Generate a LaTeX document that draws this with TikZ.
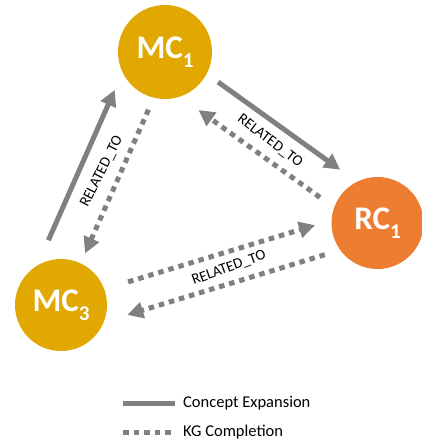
\documentclass[tikz,border=0pt]{standalone}
\usepackage{fontspec}
\setmainfont{Carlito}
\usetikzlibrary{arrows.meta,calc,positioning}
\definecolor{mcgold}{HTML}{E0A800}
\definecolor{rcorange}{HTML}{ED7D31}
\definecolor{arrowgray}{HTML}{808080}
\newcommand{\idx}[1]{\raisebox{-.28em}{\fontsize{21}{21}\selectfont#1}}

\begin{document}
\begin{tikzpicture}[x=1pt,y=1pt,
  mc node/.style={circle,fill=mcgold,minimum size=94pt,inner sep=0pt,text=white,font=\fontsize{33}{33}\selectfont\bfseries},
  rc node/.style={mc node,fill=rcorange,minimum size=92pt},
  expand/.style={draw=arrowgray,line width=5pt,-{Triangle[length=16pt,width=16pt]}},
  complete/.style={expand,dash pattern=on 5.5pt off 5pt},
  rel label/.style={font=\fontsize{15}{15}\selectfont,inner sep=0pt},
  legend text/.style={font=\fontsize{16.5}{16.5}\selectfont,inner sep=0pt}]
\useasboundingbox (0,0) rectangle (422,-447);
\begin{scope}
\node[mc node] (mc1) at (165,-52) {MC\idx{1}};
\node[mc node,minimum size=92pt] (mc3) at (61,-305) {MC\idx{3}};
\node[rc node] (rc1) at (377.5,-223) {RC\idx{1}};
\end{scope}
\begin{scope}
\draw[expand] ($(mc3)+(101:66)$) -- ($(mc1)+(217:63)$);
\draw[complete] ($(mc1)+(254:60)$) -- ($(mc3)+(65:57)$);
\draw[expand] ($(mc1)+(330.5:61)$) -- ($(rc1)+(125:65)$);
\draw[complete] ($(rc1)+(156:63)$) -- ($(mc1)+(300:67)$);
\draw[complete] ($(mc3)+(19:71)$) -- ($(rc1)+(182:62.5)$);
\draw[complete] ($(rc1)+(211:61.5)$) -- ($(mc3)+(351.5:67)$);
\node[rel label,rotate=63] (l13) at (101.7,-171.7) {RELATED\_TO};
\node[rel label,rotate=-37] (l1r) at (270,-141) {RELATED\_TO};
\node[rel label,rotate=20] (l3r) at (229,-268) {RELATED\_TO};
\end{scope}
% legend
\coordinate (ce0) at (123,-403);
\coordinate (ce1) at (175,-403);
\coordinate (kg0) at (123,-432);
\coordinate (kg1) at (172,-432);
\draw[draw=arrowgray,line width=5pt] (ce0) -- (ce1);
\draw[draw=arrowgray,line width=5pt,dash pattern=on 5.5pt off 5pt] (kg0) -- (kg1);
\node[legend text,right=8pt of ce1] (tce) {Concept Expansion};
\node[legend text,anchor=west] (tkg) at (tce.west|-kg1) {KG Completion};
\end{tikzpicture}
\end{document}
